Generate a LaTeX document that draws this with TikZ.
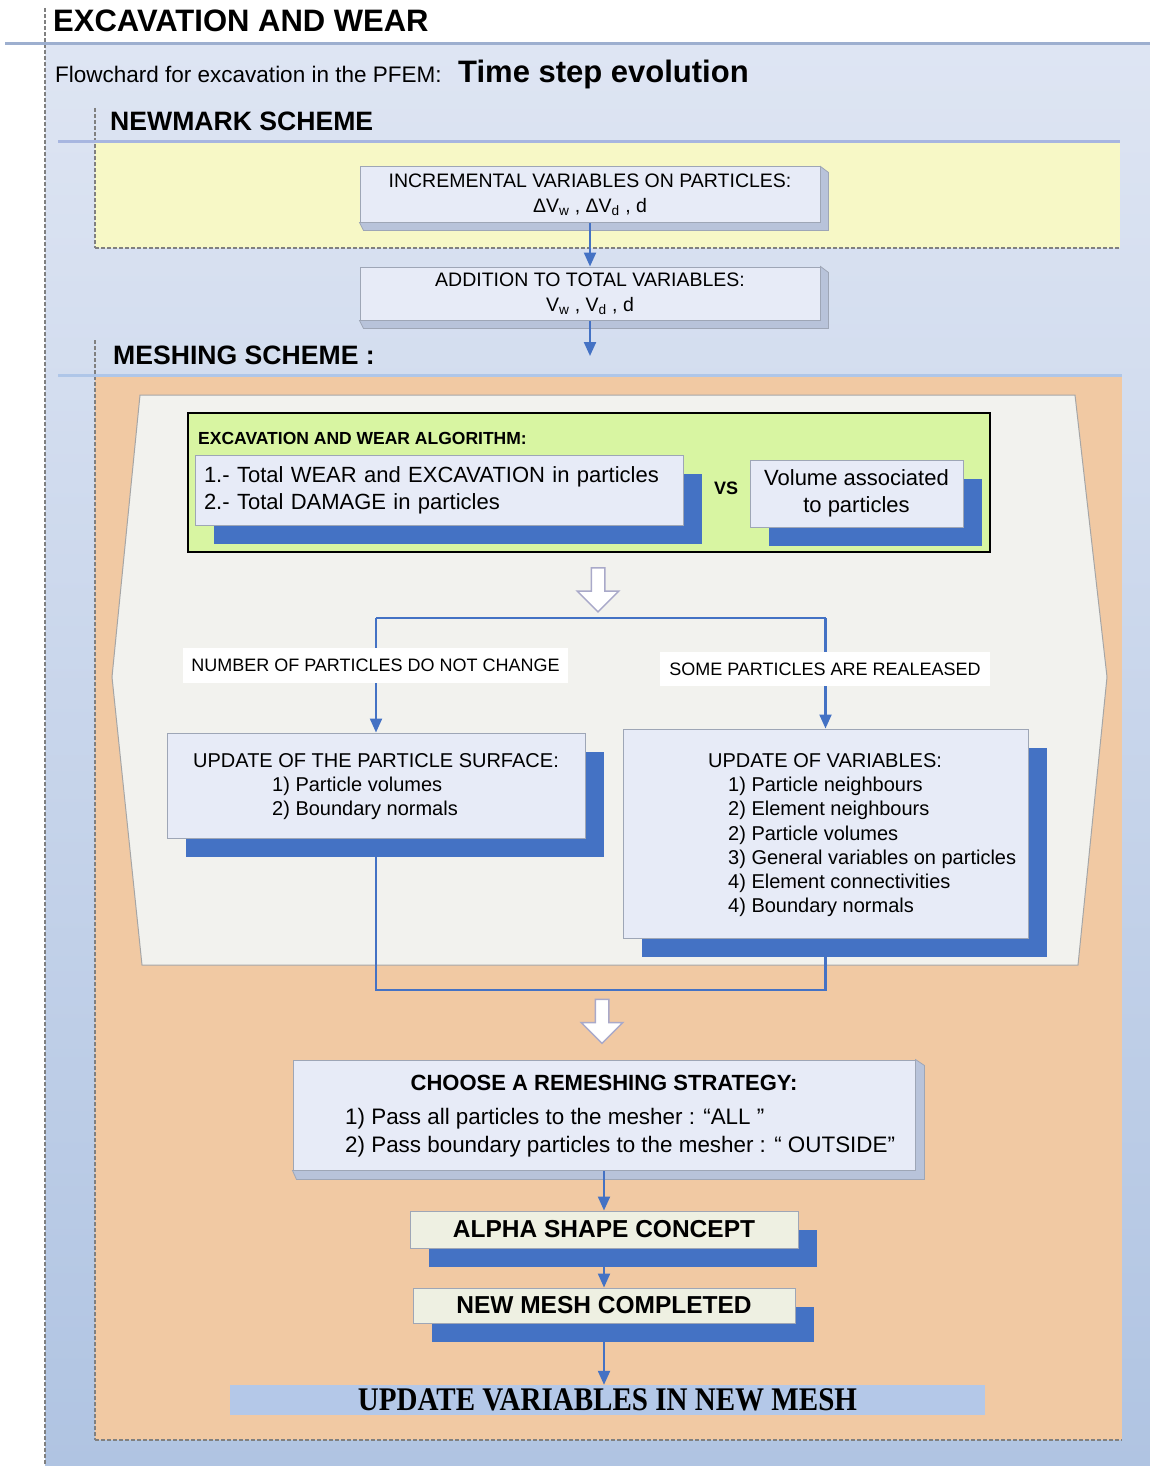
\documentclass[tikz,border=0pt]{standalone}
\usepackage{fontspec}
\setmainfont{Liberation Sans}
\newfontfamily\serifbf{Liberation Serif}
\usetikzlibrary{arrows.meta,shadows,shapes.arrows}
\pgfdeclarelayer{back}
\pgfdeclarelayer{mid}
\pgfsetlayers{back,mid,main}
\definecolor{paleblue}{HTML}{DEE5F3}
\definecolor{deepblue}{HTML}{B0C4E2}
\definecolor{headrule}{HTML}{9DAFCF}
\definecolor{newline}{HTML}{A7B6E0}
\definecolor{meshline}{HTML}{AFC6E8}
\definecolor{newyellow}{HTML}{F7F8C6}
\definecolor{meshorange}{HTML}{F1C9A3}
\definecolor{hexgray}{HTML}{F2F2EE}
\definecolor{algogreen}{HTML}{D8F5A2}
\definecolor{boxfill}{HTML}{E7EBF7}
\definecolor{boxline}{HTML}{9EA6B6}
\definecolor{bevelfill}{HTML}{B8C3DA}
\definecolor{flowblue}{HTML}{4472C4}
\definecolor{hollowline}{HTML}{A9A9C9}
\definecolor{beige}{HTML}{EEF0E2}
\definecolor{barblue}{HTML}{B4C8E8}
\newcommand\fsz[2]{\fontsize{#1pt}{#2pt}\selectfont}

\begin{document}
\begin{tikzpicture}[x=1pt,y=-1pt,
  box/.style={draw=boxline, line width=1pt, fill=boxfill, inner sep=0pt},
  shbox/.style={box, drop shadow={shadow xshift=19pt, shadow yshift=-19pt, fill=flowblue, opacity=1}},
  bevel/.style={draw=boxline, fill=bevelfill, line width=.8pt},
  flow/.style={draw=flowblue, line width=2.2pt, -{Triangle[length=14pt,width=12pt]}},
  link/.style={draw=flowblue, line width=2.2pt},
  hollow/.style={single arrow, shape border rotate=270, draw=hollowline, fill=white, line width=1.5pt, inner sep=6pt, minimum height=44pt, single arrow head extend=14pt},
  tag/.style={fill=white, inner sep=0pt, font=\fsz{18}{22}},
  lbl/.style={anchor=base west, inner sep=0pt},
  dashedge/.style={draw=gray, dash pattern=on 4pt off 2pt, line width=1.2pt}]
\useasboundingbox (0,0) rectangle (1150,1466);

\begin{pgfonlayer}{back}
\shade[top color=paleblue, bottom color=deepblue] (45,44) rectangle (1150,1466);
\draw[dashedge] (45,8) -- (45,1466);
\draw[headrule, line width=3pt] (5,44) -- (1150,44);
\fill[newyellow] (95,143) rectangle (1120,248);
\draw[dashedge] (95,248) -- (1120,248);
\draw[dashedge] (95,108) -- (95,248);
\draw[newline, line width=3pt] (58,142) -- (1120,142);
\fill[meshorange] (95,376) rectangle (1122,1440);
\draw[dashedge] (95,1440) -- (1122,1440);
\draw[dashedge] (95,340) -- (95,1440);
\draw[meshline, line width=3pt] (58,375) -- (1122,375);
\filldraw[fill=hexgray, draw=gray!70, line width=1pt] (140,395) -- (1075,395) -- (1107,677) -- (1078,965) -- (142,965) -- (112,677) -- cycle;
\end{pgfonlayer}

\node[lbl, font=\bfseries\fsz{31}{36}] (title) at (53,32) {EXCAVATION AND WEAR};
\node[lbl, font=\fsz{22.5}{26}] (sub) at (55,83) {Flowchard for excavation in the PFEM:};
\node[lbl, font=\bfseries\fsz{31}{36}] (evol) at (458,83) {Time step evolution};
\node[lbl, font=\bfseries\fsz{26.6}{30}] (newmark) at (110,131) {NEWMARK SCHEME};
\node[lbl, font=\bfseries\fsz{26.6}{30}] (meshing) at (113,364) {MESHING SCHEME :};

\node[box, minimum width=460pt, minimum height=55pt, align=center, font=\fsz{19.5}{25}] (inc) at (590,194.5) {INCREMENTAL VARIABLES ON PARTICLES:\\ΔV\textsubscript{w} , ΔV\textsubscript{d} , d};
\node[box, minimum width=460pt, minimum height=53pt, align=center, font=\fsz{19.5}{25}] (add) at (590,293.5) {ADDITION TO TOTAL VARIABLES:\\V\textsubscript{w} , V\textsubscript{d} , d};
\coordinate (meshin) at (590,356);

\node[draw=black, line width=2.5pt, fill=algogreen, minimum width=802pt, minimum height=139pt] (algo) at (589,482.5) {};
\node[lbl, font=\bfseries\fsz{17.5}{20}] (algoT) at (198,444) {EXCAVATION AND WEAR ALGORITHM:};
\node[shbox, minimum width=488pt, minimum height=70pt, text width=470pt, align=left, font=\fsz{22}{27}] (wear) at (439,490) {1.- Total WEAR and EXCAVATION in particles\\2.- Total DAMAGE in particles};
\node[font=\bfseries\fsz{18}{20}] (vs) at (726,488) {VS};
\node[shbox, minimum width=213pt, minimum height=67pt, align=center, font=\fsz{22}{27}] (vol) at (856.5,493.5) {Volume associated\\to particles};

\node[hollow] (dn1) at (598,586.5) {};
\coordinate (brL) at (376,618);
\coordinate (brR) at (825.5,618);

\node[shbox, minimum width=418pt, minimum height=105pt] (surf) at (376,785.5) {};
\node[font=\fsz{20}{24}] (surfT) at (376,761) {UPDATE OF THE PARTICLE SURFACE:};
\node[anchor=north west, inner sep=0pt, align=left, font=\fsz{20}{24.2}] (surfL) at (272,777) {1) Particle volumes\\2) Boundary normals};

\node[shbox, minimum width=405pt, minimum height=209pt] (vars) at (825.5,833.5) {};
\node[font=\fsz{20}{24}] (varsT) at (825,761) {UPDATE OF VARIABLES:};
\node[anchor=north west, inner sep=0pt, align=left, font=\fsz{20}{24.2}] (varsL) at (728,777) {1) Particle neighbours\\2) Element neighbours\\2) Particle volumes\\3) General variables on particles\\4) Element connectivities\\4) Boundary normals};

\node[tag, minimum width=385pt, minimum height=35pt] (same) at (375.5,665.5) {NUMBER OF PARTICLES DO NOT CHANGE};
\node[tag, minimum width=330pt, minimum height=34pt] (rel) at (825,669) {SOME PARTICLES ARE REALEASED};

\coordinate (joinL) at (376,990);
\coordinate (joinR) at (825.5,990);
\node[hollow] (dn2) at (602,1018) {};

\node[box, minimum width=622pt, minimum height=110pt] (strat) at (604,1115) {};
\node[font=\bfseries\fsz{22}{26}] (stratT) at (604,1083) {CHOOSE A REMESHING STRATEGY:};
\node[anchor=north west, inner sep=0pt, align=left, font=\fsz{22.4}{28}] (stratL) at (345,1108) {1) Pass all particles to the mesher : “ALL ”\\2) Pass boundary particles to the mesher : “ OUTSIDE”};

\node[shbox, fill=beige, minimum width=388pt, minimum height=37pt, font=\bfseries\fsz{24.5}{28}] (alpha) at (604,1229.5) {ALPHA SHAPE CONCEPT};
\node[shbox, fill=beige, minimum width=382pt, minimum height=35pt, font=\bfseries\fsz{24.5}{28}] (mesh) at (604,1305.5) {NEW MESH COMPLETED};
\node[fill=barblue, minimum width=755pt, minimum height=30pt, inner sep=0pt, font=\serifbf\bfseries\fsz{33}{36}] (upd) at (607.5,1400) {\scalebox{0.88}[1]{UPDATE VARIABLES IN NEW MESH}};

\begin{pgfonlayer}{mid}
\foreach \bx/\off in {inc/8,add/8,strat/9} {
  \filldraw[bevel] (\bx.north east) -- ([shift={(\off,6)}]\bx.north east) -- ([shift={(\off,\off)}]\bx.south east) -- ([shift={(4,\off)}]\bx.south west) -- (\bx.south west) -- (\bx.south east) -- cycle;
}
\draw[flow] (inc) -- (add);
\draw[flow] (add) -- (meshin);
\draw[link] (brL) -- (brR);
\draw[flow] (brL) -- (surf);
\draw[flow] (brR) -- (vars);
\draw[link] (surf) -- (joinL) -- (joinR) -- (vars);
\draw[flow] (strat) -- (alpha);
\draw[flow] (alpha) -- (mesh);
\draw[flow] (mesh) -- (mesh |- upd.north);
\end{pgfonlayer}
\end{tikzpicture}
\end{document}
